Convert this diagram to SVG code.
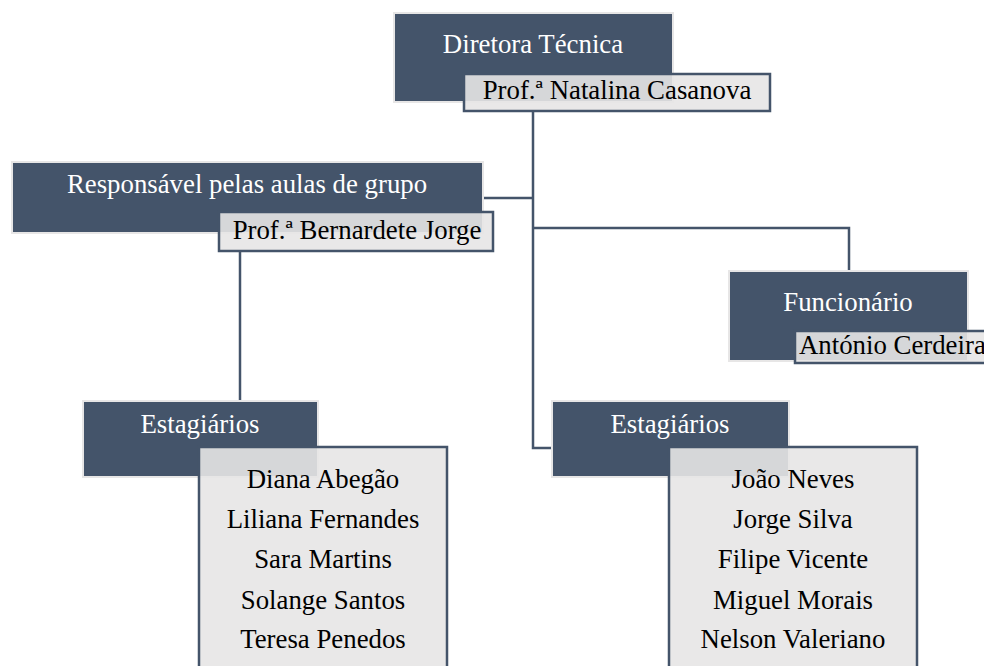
<svg xmlns="http://www.w3.org/2000/svg" width="984" height="666" viewBox="0 0 984 666">
<style>
.dark{fill:#44546a;stroke:#e7e6e6;stroke-width:2}
.sub{fill:#e7e6e6;fill-opacity:0.9;stroke:#44546a;stroke-width:2.5}
.conn{fill:none;stroke:#44546a;stroke-width:2.5}
text{font-family:"Liberation Serif","Times New Roman",serif;font-size:26.8px}
.w{fill:#ffffff;text-anchor:middle}
.b{fill:#000000;text-anchor:middle}
</style>
<rect width="984" height="666" fill="#ffffff"/>
<g id="connectors">
<path class="conn" d="M533,111 V448 H553"/>
<path class="conn" d="M484,198 H533"/>
<path class="conn" d="M533,228 H849 V271"/>
<path class="conn" d="M240,251 V401"/>
</g>
<g id="diretora">
<rect class="dark" x="394" y="13" width="279" height="89"/>
<text class="w" x="533" y="53">Diretora Técnica</text>
<rect class="sub" x="464" y="74" width="306" height="37"/>
<text class="b" x="617" y="99">Prof.ª Natalina Casanova</text>
</g>
<g id="responsavel">
<rect class="dark" x="12" y="162" width="471" height="71"/>
<text class="w" x="247" y="193">Responsável pelas aulas de grupo</text>
<rect class="sub" x="219" y="212" width="274" height="39"/>
<text class="b" x="357" y="239">Prof.ª Bernardete Jorge</text>
</g>
<g id="funcionario">
<rect class="dark" x="729" y="271" width="239" height="90"/>
<text class="w" x="848" y="311">Funcionário</text>
<rect class="sub" x="795" y="331" width="220" height="32"/>
<text fill="#000000" x="799" y="354">António Cerdeira</text>
</g>
<g id="estagiarios-esq">
<rect class="dark" x="83" y="401" width="235" height="76"/>
<text class="w" x="200" y="433">Estagiários</text>
<rect class="sub" x="199" y="447" width="248" height="240"/>
<text class="b" x="323" y="488">Diana Abegão</text>
<text class="b" x="323" y="528">Liliana Fernandes</text>
<text class="b" x="323" y="568">Sara Martins</text>
<text class="b" x="323" y="609">Solange Santos</text>
<text class="b" x="323" y="648">Teresa Penedos</text>
</g>
<g id="estagiarios-dir">
<rect class="dark" x="552" y="401" width="237" height="76"/>
<text class="w" x="670" y="433">Estagiários</text>
<rect class="sub" x="669" y="447" width="248" height="240"/>
<text class="b" x="793" y="488">João Neves</text>
<text class="b" x="793" y="528">Jorge Silva</text>
<text class="b" x="793" y="568">Filipe Vicente</text>
<text class="b" x="793" y="609">Miguel Morais</text>
<text class="b" x="793" y="648">Nelson Valeriano</text>
</g>
</svg>
